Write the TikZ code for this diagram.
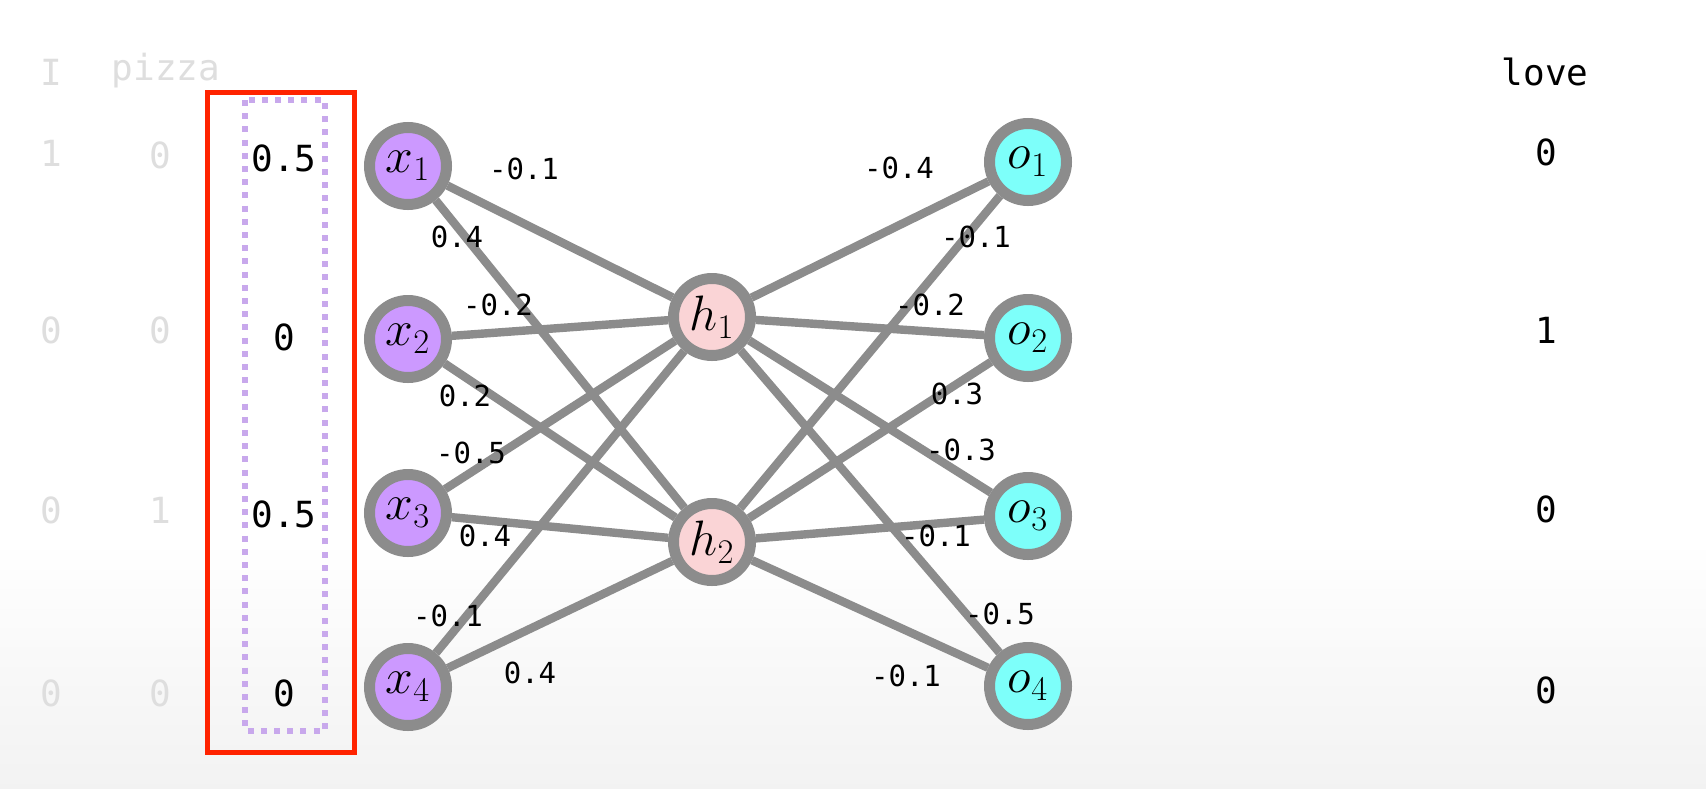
\documentclass[tikz,border=0pt]{standalone}
\usepackage{fontspec}
\setmonofont{DejaVu Sans Mono}

\definecolor{inputfill}{RGB}{204,153,255}
\definecolor{hiddenfill}{RGB}{250,212,214}
\definecolor{outputfill}{RGB}{125,255,250}
\definecolor{ringgray}{RGB}{140,140,140}
\definecolor{boxred}{RGB}{255,35,0}
\definecolor{dotpurple}{RGB}{200,168,236}
\definecolor{fadetext}{RGB}{222,222,222}

\tikzset{
  neuron/.style={circle, draw=ringgray, line width=5.5pt, minimum size=38.5pt,
    inner sep=0pt, font=\fontsize{25}{25}\selectfont},
  inneuron/.style={neuron, fill=inputfill},
  hidneuron/.style={neuron, fill=hiddenfill},
  outneuron/.style={neuron, fill=outputfill},
  link/.style={draw=ringgray, line width=4.2pt},
  weight/.style={font=\ttfamily\fontsize{14.5}{15}\selectfont},
  value/.style={font=\ttfamily\fontsize{18}{18}\selectfont},
  faded/.style={value, text=fadetext},
}

\begin{document}
\begin{tikzpicture}[x=0.5pt, y=-0.5pt]

% -----------------------------
% Background
% -----------------------------
\useasboundingbox (0,0) rectangle (1706,788);
\fill[white] (0,0) rectangle (1706,788);
\shade[top color=white, bottom color=black!5] (0,540) rectangle (1706,788);

% -----------------------------
% Faded one-hot columns
% -----------------------------
\node[faded] (wI) at (51,72) {I};
\node[faded] (wpizza) at (166,71) {pizza};
\node[faded] (a1) at (51,153) {1};  \node[faded] (b1) at (160,155) {0};
\node[faded] (a2) at (51,330) {0};  \node[faded] (b2) at (160,330) {0};
\node[faded] (a3) at (51,510) {0};  \node[faded] (b3) at (160,510) {1};
\node[faded] (a4) at (51,693) {0};  \node[faded] (b4) at (160,693) {0};

% -----------------------------
% Averaged input vector
% -----------------------------
\draw[boxred, line width=2.5pt] (207,92) rectangle (354,752);
\draw[dotpurple, line width=3pt, dash pattern=on 3pt off 3.6pt]
    (245,100) rectangle (325,731);
\node[value] (v1) at (284,158) {0.5};
\node[value] (v2) at (284,337) {0};
\node[value] (v3) at (284,514) {0.5};
\node[value] (v4) at (284,693) {0};

% -----------------------------
% Neurons
% -----------------------------
\node[inneuron] (x1) at (408,166) {$x_1$};
\node[inneuron] (x2) at (408,339) {$x_2$};
\node[inneuron] (x3) at (408,513) {$x_3$};
\node[inneuron] (x4) at (408,687) {$x_4$};

\node[hidneuron] (h1) at (712,317) {$h_1$};
\node[hidneuron] (h2) at (712,542) {$h_2$};

\node[outneuron] (o1) at (1028,162) {$o_1$};
\node[outneuron] (o2) at (1028,338) {$o_2$};
\node[outneuron] (o3) at (1028,516) {$o_3$};
\node[outneuron] (o4) at (1028,686) {$o_4$};

% -----------------------------
% Connections
% -----------------------------
\foreach \i in {1,...,4} {
    \foreach \j in {1,2} {
        \draw[link] (x\i) -- (h\j);
        \draw[link] (h\j) -- (o\i);
    }
}

% -----------------------------
% Weights
% -----------------------------
\node[weight] (w11) at (524,169) {-0.1};
\node[weight] (w12) at (457,237) {0.4};
\node[weight] (w21) at (498,305) {-0.2};
\node[weight] (w22) at (465,396) {0.2};
\node[weight] (w31) at (471,453) {-0.5};
\node[weight] (w32) at (485,536) {0.4};
\node[weight] (w41) at (448,616) {-0.1};
\node[weight] (w42) at (530,673) {0.4};

\node[weight] (u11) at (899,168) {-0.4};
\node[weight] (u21) at (976,237) {-0.1};
\node[weight] (u12) at (930,305) {-0.2};
\node[weight] (u22) at (957,394) {0.3};
\node[weight] (u13) at (961,450) {-0.3};
\node[weight] (u23) at (936,536) {-0.1};
\node[weight] (u14) at (1000,614) {-0.5};
\node[weight] (u24) at (906,676) {-0.1};

% -----------------------------
% Target
% -----------------------------
\node[value] (love) at (1545,72) {love};
\node[value] (t1) at (1546,152) {0};
\node[value] (t2) at (1546,330) {1};
\node[value] (t3) at (1546,509) {0};
\node[value] (t4) at (1546,690) {0};

\end{tikzpicture}
\end{document}
